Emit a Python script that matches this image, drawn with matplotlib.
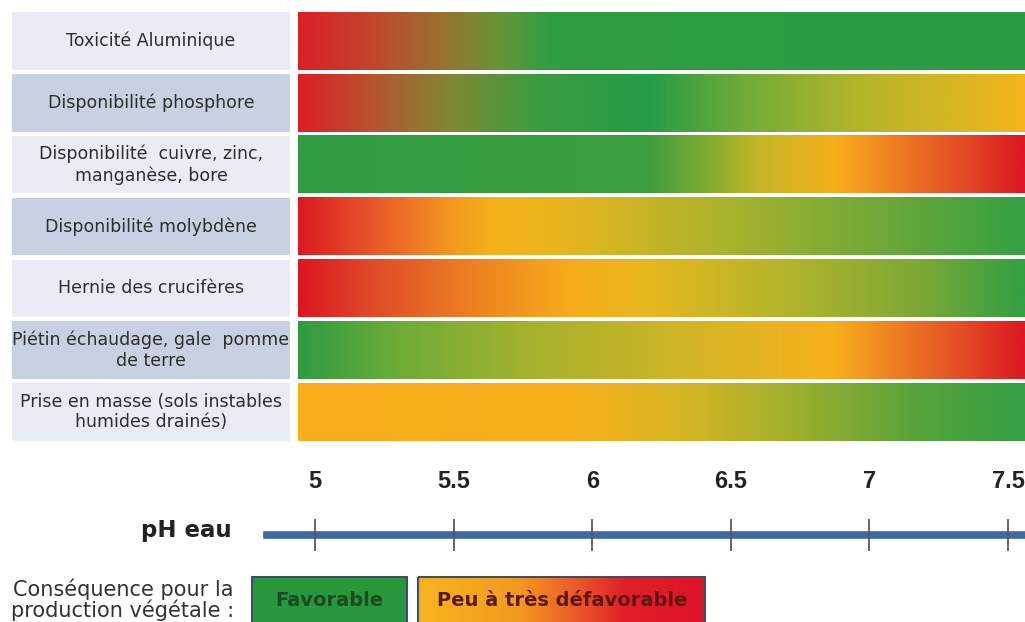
import matplotlib.pyplot as plt
import numpy as np
from matplotlib.colors import LinearSegmentedColormap, Normalize
from matplotlib.patches import Rectangle

# --- data ---------------------------------------------------------------
criteres = [
    'Toxicité Aluminique',
    'Disponibilité phosphore',
    'Disponibilité  cuivre, zinc,\nmanganèse, bore',
    'Disponibilité molybdène',
    'Hernie des crucifères',
    'Piétin échaudage, gale  pomme\nde terre',
    'Prise en masse (sols instables\nhumides drainés)',
]

# pH stops of each colour gradient (left -> right)
stops_aluminium = [4.94, 5.2, 5.45, 5.65, 5.85, 7.55]
colors_aluminium = ['#dc1f26', '#c0462c', '#9a7030', '#6a9438', '#2f9e42', '#2b9c44']

stops_phosphore = [4.94, 5.2, 5.5, 5.8, 6.2, 6.55, 6.95, 7.55]
colors_phosphore = ['#dc1f26', '#b8542e', '#7d8a35', '#3a9d3f', '#259c48', '#70ac36', '#b2b52a', '#f2b51c']

stops_cuivre = [4.94, 6.2, 6.4, 6.6, 6.88, 7.1, 7.35, 7.55]
colors_cuivre = ['#2e9c42', '#3c9f3c', '#7aaa33', '#c4b626', '#f7ae1c', '#ee7d22', '#e44a26', '#dc1a22']

stops_molybdene = [4.94, 5.2, 5.5, 5.65, 5.95, 6.5, 7.0, 7.55]
colors_molybdene = ['#dd1a22', '#e8562a', '#f39a20', '#f7b21a', '#e2b520', '#a8b32c', '#74a937', '#36a042']

stops_hernie = [4.94, 5.2, 5.55, 5.92, 6.2, 6.7, 7.2, 7.55]
colors_hernie = ['#dc1620', '#e04a28', '#ec7f22', '#f7ac1a', '#e7b71f', '#b3b52a', '#7aa836', '#33a042']

stops_pietin = [4.94, 5.3, 5.8, 6.4, 6.87, 7.1, 7.35, 7.55]
colors_pietin = ['#2f9c42', '#6fac37', '#a8b22c', '#d6b524', '#f7b01c', '#ee7f22', '#e44a26', '#dc1a22']

stops_masse = [4.94, 5.95, 6.35, 6.75, 7.15, 7.55]
colors_masse = ['#f8ae1a', '#f6b11b', '#d4b524', '#9caf2e', '#5aa43a', '#35a043']

gradient_stops = [stops_aluminium, stops_phosphore, stops_cuivre, stops_molybdene,
                  stops_hernie, stops_pietin, stops_masse]
gradient_colors = [colors_aluminium, colors_phosphore, colors_cuivre, colors_molybdene,
                   colors_hernie, colors_pietin, colors_masse]

ph_ticks = [5, 5.5, 6, 6.5, 7, 7.5]
ph_labels = ['5', '5.5', '6', '6.5', '7', '7.5']

legende = ['Favorable', 'Peu à très défavorable']

# --- layout (pixels of a 1025x622 picture) -------------------------------
W, H = 1025, 622
px_per_ph = (1008 - 315) / 2.5       # 5 sits at x=315, 7.5 at x=1008


def ph_at(x):
    return 5 + (x - 315) / px_per_ph


def rect(l, t, r, b):
    return [l / W, 1 - b / H, (r - l) / W, (b - t) / H]


fig = plt.figure(figsize=(W / 100, H / 100), dpi=100)
fig.patch.set_facecolor('white')

n = len(criteres)
bar_h = 0.93

# row labels
ax_lab = fig.add_axes(rect(12, 10, 290, 443))
box_cols = ['#e9ecf5' if i % 2 == 0 else '#c9d0e2' for i in range(n)]
ax_lab.barh(range(n), 1, height=bar_h, left=0, color=box_cols)
for i, c in enumerate(criteres):
    ax_lab.text(0.5, i, c, ha='center', va='center', fontsize=12.5,
                color='#2d2d2d', linespacing=1.2)
ax_lab.set_xlim(0, 1)
ax_lab.set_ylim(n - 0.5, -0.5)
ax_lab.axis('off')

# gradient bars
ax = fig.add_axes(rect(298, 10, 1025, 443))
ph0, ph1 = ph_at(298), ph_at(1025)
grid = np.linspace(ph0, ph1, 700)[np.newaxis, :]
for i, (st, cols) in enumerate(zip(gradient_stops, gradient_colors)):
    pos = [(s - st[0]) / (st[-1] - st[0]) for s in st]
    cmap = LinearSegmentedColormap.from_list(f'row{i}', list(zip(pos, cols)))
    ax.imshow(grid, cmap=cmap, norm=Normalize(st[0], st[-1]), aspect='auto',
              interpolation='bilinear',
              extent=(ph0, ph1, i + bar_h / 2, i - bar_h / 2))
ax.set_xlim(ph0, ph1)
ax.set_ylim(n - 0.5, -0.5)
ax.axis('off')

# pH scale
ax_ph = fig.add_axes([267 / W, 1 - 535 / H, (1025 - 267) / W, 0.0001])
ax_ph.set_xlim(ph_at(267), ph_at(1025))
ax_ph.set_ylim(-1, 1)
ax_ph.axhline(0, color='#3f69a5', lw=5.5, clip_on=False, zorder=1)
ax_ph.set_xticks(ph_ticks, ph_labels)
ax_ph.tick_params(axis='x', direction='inout', length=23, width=1.3, color='#5a5a5a',
                  bottom=True, top=False, labelbottom=False, labeltop=True, pad=19,
                  labelsize=17, labelcolor='#222222')
for lbl in ax_ph.get_xticklabels():
    lbl.set_fontweight('bold')
    lbl.set_family('Liberation Sans')
ax_ph.set_yticks([])
for s in ax_ph.spines.values():
    s.set_visible(False)
ax_ph.patch.set_visible(False)

# overlay for titles and legend
ov = fig.add_axes([0, 0, 1, 1], zorder=-1)
ov.set_xlim(0, W)
ov.set_ylim(H, 0)
ov.axis('off')

ov.text(232, 537, 'pH eau', ha='right', va='baseline', fontsize=16.5,
        fontweight='bold', color='#222222')
ov.text(123, 600, 'Conséquence pour la\nproduction végétale :', ha='center',
        va='center', fontsize=15, color='#333333', linespacing=0.98)

ov.add_patch(Rectangle((252, 577), 155, 50, facecolor='#28963c',
                       edgecolor='#3a5068', lw=1.5))
ov.text(329.5, 600, legende[0], ha='center', va='center', fontsize=14,
        fontweight='bold', color='#1d4a20')

bad = LinearSegmentedColormap.from_list(
    'bad', [(0, '#f8b41e'), (0.35, '#f39a1f'), (0.55, '#ea5a28'), (0.72, '#e11f2a'), (1, '#de1428')])
ov.imshow(np.linspace(0, 1, 300)[np.newaxis, :], cmap=bad, aspect='auto',
          extent=(418, 705, 627, 577), interpolation='bilinear')
ov.add_patch(Rectangle((418, 577), 287, 50, facecolor='none',
                       edgecolor='#3a5068', lw=1.5))
ov.text(562, 600, legende[1], ha='center', va='center', fontsize=14,
        fontweight='bold', color='#5b1a0e')
ov.set_xlim(0, W)
ov.set_ylim(H, 0)

fig.savefig('out.png', dpi=100)
